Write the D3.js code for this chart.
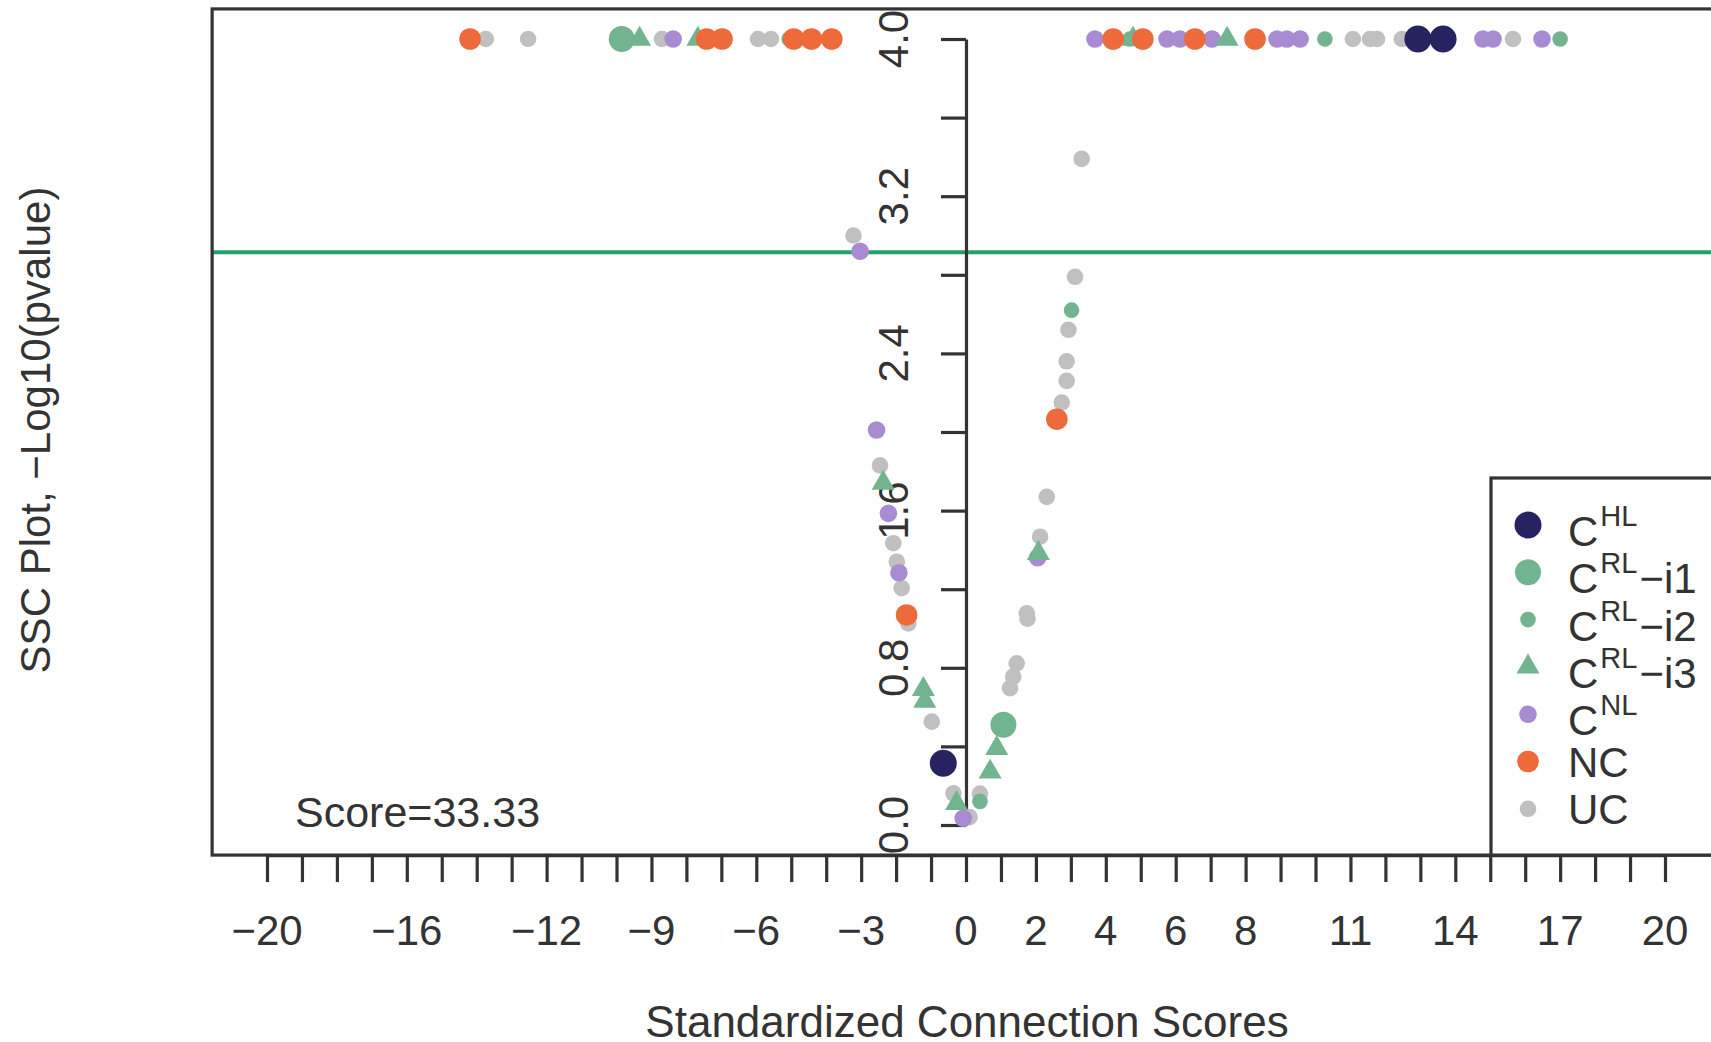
<!DOCTYPE html>
<html>
<head>
<meta charset="utf-8">
<script src="https://cdn.jsdelivr.net/npm/d3@7"></script>
<style>
  body { margin: 0; background: #fff; }
  text { font-family: "Liberation Sans", Arial, sans-serif; fill: #333; }
</style>
</head>
<body>
<div id="grafica"></div>
<script>
// Datos: [score, -log10(p)] por grupo
const categorias = ["CHL", "CRL-i1", "CRL-i2", "CRL-i3", "CNL", "NC", "UC"]

const puntosCHL = [[-0.65, 0.314], [12.93, 4], [13.65, 4]]
const puntosCRL1 = [[-9.85, 4], [1.07, 0.51]]
const puntosCRL2 = [[-5.06, 4], [4.69, 4], [4.92, 4], [10.27, 4], [17.0, 4],
  [0.4, 0.12], [3.02, 2.62]]
const puntosCRL3 = [[-9.34, 4], [-7.67, 4], [4.78, 4], [7.47, 4],
  [-2.37, 1.74], [-1.22, 0.69], [-1.18, 0.63], [-0.27, 0.11], [0.69, 0.27], [0.88, 0.39], [2.07, 1.383]]
const puntosCNL = [[-8.38, 4], [3.69, 4], [5.75, 4], [6.12, 4], [7.04, 4], [8.9, 4], [9.18, 4], [9.56, 4],
  [14.79, 4], [15.08, 4], [16.48, 4],
  [-3.03, 2.92], [-2.56, 2.01], [-2.22, 1.586], [-1.92, 1.284], [-0.08, 0.034], [2.05, 1.36]]
const puntosNC = [[-14.19, 4], [-7.42, 4], [-6.98, 4], [-4.93, 4], [-4.42, 4], [-3.84, 4],
  [4.21, 4], [5.06, 4], [6.55, 4], [8.27, 4], [-1.70, 1.069], [2.6, 2.065]]
const puntosUC = [[-13.74, 4], [-12.53, 4], [-8.70, 4], [-5.95, 4], [-5.58, 4],
  [11.07, 4], [11.56, 4], [11.76, 4], [12.47, 4], [15.65, 4],
  [-3.22, 3.0], [-2.46, 1.83], [-2.08, 1.434], [-1.98, 1.34], [-1.84, 1.205], [-1.65, 1.026],
  [-0.98, 0.526], [-0.36, 0.161], [0.1, 0.04], [0.4, 0.16], [1.26, 0.696], [1.35, 0.755],
  [1.45, 0.823], [1.74, 1.077], [1.76, 1.05], [2.12, 1.467], [2.31, 1.67], [2.74, 2.15],
  [2.88, 2.26], [2.88, 2.36], [2.93, 2.52], [3.12, 2.79], [3.31, 3.39]]

const xTicks = d3.range(-20, 21)
const xLabels = [-20, -16, -12, -9, -6, -3, 0, 2, 4, 6, 8, 11, 14, 17, 20]
const yTicks = [0, 0.4, 0.8, 1.2, 1.6, 2.0, 2.4, 2.8, 3.2, 3.6, 4.0]
const yLabels = [0, 0.8, 1.6, 2.4, 3.2, 4.0]
const umbral = 2.915
const score = "Score=33.33"

const anchoTotal = 1711
const altoTotal = 1042

// Escaladores
const x = d3.scaleLinear().domain([-20, 20]).range([267, 1665])
const y = d3.scaleLinear().domain([0, 4]).range([825, 39])

// Estilos por grupo
const estilos = {
  "CHL":    { color: "#272361", tipo: "c", r: 13.5 },
  "CRL-i1": { color: "#72b48f", tipo: "c", r: 13 },
  "CRL-i2": { color: "#72b48f", tipo: "c", r: 7.8 },
  "CRL-i3": { color: "#72b48f", tipo: "t", r: 230 },
  "CNL":    { color: "#a98bd1", tipo: "c", r: 8.8 },
  "NC":     { color: "#ee6a3a", tipo: "c", r: 10.8 },
  "UC":     { color: "#c0c0c0", tipo: "c", r: 8.3 },
}
const datosPorGrupo = {
  "CHL": puntosCHL, "CRL-i1": puntosCRL1, "CRL-i2": puntosCRL2, "CRL-i3": puntosCRL3,
  "CNL": puntosCNL, "NC": puntosNC, "UC": puntosUC,
}
const ordenDibujo = ["UC", "CNL", "CRL-i2", "CRL-i3", "CRL-i1", "NC", "CHL"]

const svg = d3.select("#grafica").append("svg")
  .attr("width", anchoTotal)
  .attr("height", altoTotal)

// Caja del grafico
const caja = { left: x(-21.57), right: x(21.57), top: y(4.153), bottom: y(-0.153) }

// Linea de umbral
svg.append("line")
  .attr("x1", caja.left).attr("x2", caja.right)
  .attr("y1", y(umbral)).attr("y2", y(umbral))
  .attr("stroke", "#22a06c")
  .attr("stroke-width", 4)

// Eje Y en x = 0
const ejeY = svg.append("g")
  .attr("transform", `translate(${x(0)},0)`)
  .call(d3.axisLeft(y).tickValues(yTicks).tickSize(25).tickSizeOuter(0).tickFormat(""))
ejeY.selectAll("path, line").attr("stroke", "#333").attr("stroke-width", 3.2)

yLabels.forEach(v => {
  svg.append("text")
    .attr("transform", `translate(${x(0) - 58},${y(v)}) rotate(-90)`)
    .attr("text-anchor", "middle")
    .attr("font-size", "42px")
    .text(d3.format(".1f")(v))
})

// Puntos
const simbolo = d3.symbol().type(d3.symbolTriangle)
ordenDibujo.forEach(cat => {
  const est = estilos[cat]
  const capa = svg.append("g")
  if (est.tipo === "c") {
    capa.selectAll("circle")
      .data(datosPorGrupo[cat])
      .join("circle")
      .attr("cx", d => x(d[0]))
      .attr("cy", d => y(d[1]))
      .attr("r", est.r)
      .attr("fill", est.color)
  } else {
    capa.selectAll("path")
      .data(datosPorGrupo[cat])
      .join("path")
      .attr("transform", d => `translate(${x(d[0])},${y(d[1])})`)
      .attr("d", simbolo.size(est.r)())
      .attr("fill", est.color)
  }
})

// Marco
svg.append("rect")
  .attr("x", caja.left).attr("y", caja.top)
  .attr("width", caja.right - caja.left)
  .attr("height", caja.bottom - caja.top)
  .attr("fill", "none")
  .attr("stroke", "#333")
  .attr("stroke-width", 3.2)

// Eje X
const ejeX = svg.append("g")
  .attr("transform", `translate(0,${caja.bottom})`)
  .call(d3.axisBottom(x).tickValues(xTicks).tickSize(27).tickSizeOuter(0).tickFormat(""))
ejeX.selectAll("path, line").attr("stroke", "#333").attr("stroke-width", 3.2)

xLabels.forEach(v => {
  svg.append("text")
    .attr("x", x(v))
    .attr("y", 945)
    .attr("text-anchor", "middle")
    .attr("font-size", "42px")
    .text(d3.format("")(v).replace("-", "\u2212"))
})

// Titulos
svg.append("text")
  .attr("x", 967).attr("y", 1037)
  .attr("text-anchor", "middle")
  .attr("font-size", "44px")
  .text("Standardized Connection Scores")

svg.append("text")
  .attr("transform", "translate(50,430) rotate(-90)")
  .attr("text-anchor", "middle")
  .attr("font-size", "42px")
  .text("SSC Plot, \u2212Log10(pvalue)")

svg.append("text")
  .attr("x", 295).attr("y", 827)
  .attr("font-size", "43px")
  .text(score)

// Leyenda
const leyenda = svg.append("g")
leyenda.append("rect")
  .attr("x", 1491).attr("y", 478)
  .attr("width", 300).attr("height", caja.bottom - 478)
  .attr("fill", "#fff")
  .attr("stroke", "#333")
  .attr("stroke-width", 3.2)

const etiquetas = [
  { base: "C", sup: "HL", resto: "" },
  { base: "C", sup: "RL", resto: "\u2212i1" },
  { base: "C", sup: "RL", resto: "\u2212i2" },
  { base: "C", sup: "RL", resto: "\u2212i3" },
  { base: "C", sup: "NL", resto: "" },
  { base: "NC", sup: "", resto: "" },
  { base: "UC", sup: "", resto: "" },
]

categorias.forEach((cat, i) => {
  const est = estilos[cat]
  const fy = 525 + i * 47.3
  if (est.tipo === "c") {
    leyenda.append("circle")
      .attr("cx", 1528).attr("cy", fy)
      .attr("r", est.r)
      .attr("fill", est.color)
  } else {
    leyenda.append("path")
      .attr("transform", `translate(1528,${fy})`)
      .attr("d", simbolo.size(est.r)())
      .attr("fill", est.color)
  }
  const et = etiquetas[i]
  const t = leyenda.append("text")
    .attr("x", 1568)
    .attr("y", fy + (et.sup ? 21 : 15))
    .attr("font-size", "42px")
  t.append("tspan").text(et.base)
  if (et.sup) {
    t.append("tspan").attr("dy", -20).attr("dx", 2).attr("font-size", "29px").text(et.sup)
    if (et.resto) t.append("tspan").attr("dy", 20).attr("dx", 2).text(et.resto)
  }
})
</script>
</body>
</html>
